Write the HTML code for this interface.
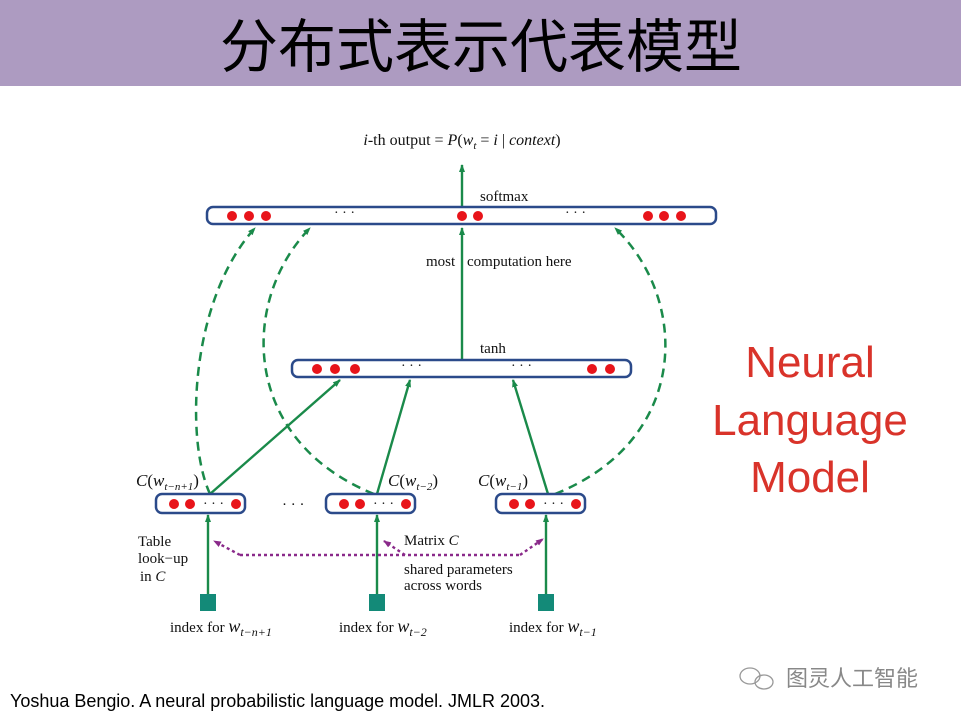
<!DOCTYPE html>
<html><head><meta charset="utf-8"><style>
body{margin:0;width:961px;height:721px;background:#fff;overflow:hidden}
</style></head><body>
<svg width="961" height="721" viewBox="0 0 961 721" xmlns="http://www.w3.org/2000/svg">
<defs>
<marker id="ag" markerWidth="8" markerHeight="8" refX="7" refY="4" orient="auto" markerUnits="userSpaceOnUse"><path d="M0,1 L8,4 L0,7 Z" fill="#1a8a4a"/></marker>
<marker id="am" markerWidth="8" markerHeight="8" refX="7" refY="4" orient="auto" markerUnits="userSpaceOnUse"><path d="M0,1 L8,4 L0,7 Z" fill="#8a2a8a"/></marker>
</defs>
<rect x="0" y="0" width="961" height="86" fill="#ad9bc1"/>
<text x="481" y="67" font-family="'Liberation Sans','Noto Sans CJK SC',sans-serif" font-size="58" text-anchor="middle" fill="#000">分布式表示代表模型</text>

<g font-family="'Liberation Serif',serif" fill="#111">
<text x="462" y="145" font-size="16" text-anchor="middle"><tspan font-style="italic">i</tspan>-th output = <tspan font-style="italic">P</tspan>(<tspan font-style="italic">w</tspan><tspan font-size="11" dy="4" font-style="italic">t</tspan><tspan dy="-4"> = </tspan><tspan font-style="italic">i</tspan> | <tspan font-style="italic">context</tspan>)</text>
<text x="480" y="201" font-size="15">softmax</text>
<text x="426" y="266" font-size="15">most</text>
<text x="467" y="266" font-size="15">computation here</text>
<text x="480" y="353" font-size="15">tanh</text>
<text x="136" y="486" font-size="17"><tspan font-style="italic">C</tspan>(<tspan font-style="italic">w</tspan><tspan font-size="11" dy="4" font-style="italic">t−n+1</tspan><tspan dy="-4">)</tspan></text>
<text x="388" y="486" font-size="17"><tspan font-style="italic">C</tspan>(<tspan font-style="italic">w</tspan><tspan font-size="11" dy="4" font-style="italic">t−2</tspan><tspan dy="-4">)</tspan></text>
<text x="478" y="486" font-size="17"><tspan font-style="italic">C</tspan>(<tspan font-style="italic">w</tspan><tspan font-size="11" dy="4" font-style="italic">t−1</tspan><tspan dy="-4">)</tspan></text>
<text x="282" y="509" font-size="15">· · ·</text>
<text x="138" y="546" font-size="15">Table</text>
<text x="138" y="563" font-size="15">look−up</text>
<text x="140" y="581" font-size="15">in <tspan font-style="italic">C</tspan></text>
<text x="404" y="545" font-size="15">Matrix <tspan font-style="italic">C</tspan></text>
<text x="404" y="574" font-size="15">shared parameters</text>
<text x="404" y="590" font-size="15">across words</text>
<text x="170" y="632" font-size="15">index for <tspan font-style="italic" font-size="18">w</tspan><tspan font-size="12" dy="4" font-style="italic">t−n+1</tspan></text>
<text x="339" y="632" font-size="15">index for <tspan font-style="italic" font-size="18">w</tspan><tspan font-size="12" dy="4" font-style="italic">t−2</tspan></text>
<text x="509" y="632" font-size="15">index for <tspan font-style="italic" font-size="18">w</tspan><tspan font-size="12" dy="4" font-style="italic">t−1</tspan></text>
</g>

<g fill="none" stroke="#1a8a4a" stroke-width="2.5" stroke-dasharray="9,6">
<path d="M210,494 C185,440 190,300 255,228" marker-end="url(#ag)"/>
<path d="M374,494 C240,440 240,300 310,228" marker-end="url(#ag)"/>
<path d="M555,494 C690,440 690,300 615,228" marker-end="url(#ag)"/>
</g>
<g stroke="#1a8a4a" stroke-width="2.4" fill="none">
<line x1="462" y1="207" x2="462" y2="165" marker-end="url(#ag)"/>
<line x1="462" y1="359" x2="462" y2="228" marker-end="url(#ag)"/>
<line x1="210" y1="494" x2="340" y2="380" marker-end="url(#ag)"/>
<line x1="377" y1="494" x2="410" y2="380" marker-end="url(#ag)"/>
<line x1="548" y1="494" x2="513" y2="380" marker-end="url(#ag)"/>
<line x1="208" y1="594" x2="208" y2="515" marker-end="url(#ag)"/>
<line x1="377" y1="594" x2="377" y2="515" marker-end="url(#ag)"/>
<line x1="546" y1="594" x2="546" y2="515" marker-end="url(#ag)"/>
</g>
<g fill="#138a78">
<rect x="200" y="594" width="16" height="17"/>
<rect x="369" y="594" width="16" height="17"/>
<rect x="538" y="594" width="16" height="17"/>
</g>
<g fill="none" stroke="#8a2a8a" stroke-width="2.4" stroke-dasharray="3,3">
<path d="M240,555 L520,555"/>
<path d="M240,555 L214,541" marker-end="url(#am)"/>
<path d="M405,555 L384,541" marker-end="url(#am)"/>
<path d="M520,555 L543,539" marker-end="url(#am)"/>
</g>

<g fill="#fff" stroke="#2b4a8a" stroke-width="2.5">
<rect x="207" y="207" width="509" height="17" rx="6"/>
<rect x="292" y="360" width="339" height="17" rx="6"/>
<rect x="156" y="494" width="89" height="19" rx="6"/>
<rect x="326" y="494" width="89" height="19" rx="6"/>
<rect x="496" y="494" width="89" height="19" rx="6"/>
</g>
<g fill="#e8141a">
<circle cx="232" cy="216" r="5"/><circle cx="249" cy="216" r="5"/><circle cx="266" cy="216" r="5"/>
<circle cx="462" cy="216" r="5"/><circle cx="478" cy="216" r="5"/>
<circle cx="648" cy="216" r="5"/><circle cx="664" cy="216" r="5"/><circle cx="681" cy="216" r="5"/>
<circle cx="317" cy="369" r="5"/><circle cx="335" cy="369" r="5"/><circle cx="355" cy="369" r="5"/>
<circle cx="592" cy="369" r="5"/><circle cx="610" cy="369" r="5"/>
<circle cx="174" cy="504" r="5"/><circle cx="190" cy="504" r="5"/><circle cx="236" cy="504" r="5"/>
<circle cx="344" cy="504" r="5"/><circle cx="360" cy="504" r="5"/><circle cx="406" cy="504" r="5"/>
<circle cx="514" cy="504" r="5"/><circle cx="530" cy="504" r="5"/><circle cx="576" cy="504" r="5"/>
</g>
<g font-family="'Liberation Serif',serif" font-size="14" fill="#111">
<text x="334" y="217">· · ·</text><text x="565" y="217">· · ·</text>
<text x="401" y="370">· · ·</text><text x="511" y="370">· · ·</text>
<text x="203" y="508">· · ·</text><text x="373" y="508">· · ·</text><text x="543" y="508">· · ·</text>
</g>

<g font-family="'Liberation Sans',sans-serif" font-size="44" fill="#d9332a" text-anchor="middle">
<text x="810" y="377">Neural</text>
<text x="810" y="435">Language</text>
<text x="810" y="492">Model</text>
</g>
<text x="10" y="707" font-family="'Liberation Sans',sans-serif" font-size="18" fill="#000" textLength="535">Yoshua Bengio. A neural probabilistic language model. JMLR 2003.</text>
<g fill="none" stroke="#999" stroke-width="1.3">
<ellipse cx="750" cy="676" rx="10" ry="8"/><ellipse cx="764" cy="682" rx="9" ry="7"/>
</g>
<text x="786" y="686" font-family="'Noto Sans CJK SC',sans-serif" font-size="22" fill="#888">图灵人工智能</text>
</svg>
</body></html>
